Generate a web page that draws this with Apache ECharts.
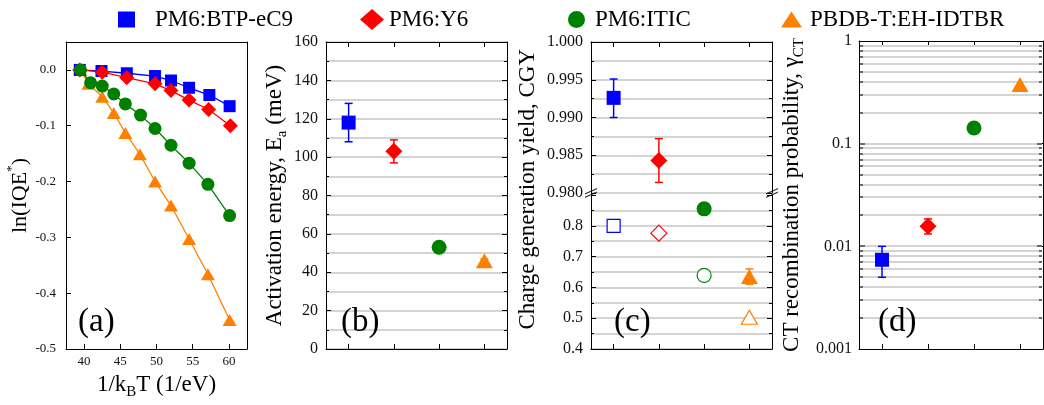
<!DOCTYPE html>
<html>
<head>
<meta charset="utf-8">
<script src="https://cdn.jsdelivr.net/npm/echarts@6/dist/echarts.min.js"></script>
<style>
  html, body { margin: 0; padding: 0; background: #fff; }
  #chart { width: 1044px; height: 405px; }
</style>
</head>
<body>
<div id="chart"></div>
<script>
// blends and their marker styles
const names = ['PM6:BTP-eC9', 'PM6:Y6', 'PM6:ITIC', 'PBDB-T:EH-IDTBR']
const colors = ['#0000ff', '#ff0000', '#008000', '#ff8000']
const symbols = ['rect', 'diamond', 'circle', 'triangle']
const cats = ['1', '2', '3', '4']

// (a) ln(IQE*) vs 1/kBT, [x, y]
const aBlue = [[39.4, 0], [42.4, -0.002], [45.9, -0.006], [49.8, -0.011], [52.0, -0.019], [54.5, -0.032], [57.3, -0.045], [60.1, -0.065]]
const aRed = [[39.4, 0], [42.5, -0.004], [45.9, -0.014], [49.8, -0.025], [52.0, -0.037], [54.5, -0.054], [57.2, -0.071], [60.2, -0.100]]
const aGreen = [[39.5, 0], [40.9, -0.023], [42.5, -0.029], [44.1, -0.043], [45.7, -0.061], [47.8, -0.081], [49.8, -0.105], [52.0, -0.135], [54.5, -0.167], [57.1, -0.205], [60.1, -0.261]]
const aOrange = [[39.5, 0], [40.6, -0.025], [42.5, -0.048], [44.1, -0.077], [45.7, -0.113], [47.7, -0.151], [49.8, -0.200], [52.0, -0.243], [54.5, -0.303], [57.1, -0.366], [60.1, -0.448]]

// (b) activation energy (meV) and error range
const eaValues = [118, 103, 53, 46]
const eaErrors = [[108, 128], [97, 109], [50.5, 55.5], [45, 47]]

// (c) charge generation yield, filled and hollow
const cgyFilledTop = [0.9926, 0.9843]          // BTP-eC9, Y6 (upper part)
const cgyFilledTopErr = [[0.9900, 0.9951], [0.9814, 0.9872]]
const cgyFilledLow = [null, null, 0.855, 0.635]  // ITIC, EH-IDTBR (lower part)
const cgyFilledLowErr = [[3, 0.610, 0.660]]
const cgyHollow = [0.800, 0.776, 0.639, 0.503]

// (d) CT recombination probability
const ctValues = [0.0074, 0.0157, 0.142, 0.376]
const ctErrors = [[0.005, 0.010], [0.0132, 0.0185]]
const ctGrid = [0.002, 0.003, 0.004, 0.005, 0.006, 0.007, 0.008, 0.009, 0.01,
  0.02, 0.03, 0.04, 0.05, 0.06, 0.07, 0.08, 0.09, 0.1,
  0.2, 0.3, 0.4, 0.5, 0.6, 0.7, 0.8, 0.9]

const serif = '"Liberation Serif", "Times New Roman", serif'
const gridGray = '#d4d4d4'

const axisLine = { show: true, onZero: false, lineStyle: { color: '#000', width: 1 } }
const tickIn = { show: true, inside: true, length: 5, lineStyle: { color: '#000', width: 1 } }
const minorIn = { show: true, splitNumber: 2, length: 3, lineStyle: { color: '#000', width: 1 } }
const labelStyle = (size, margin) => ({ color: '#111', fontFamily: serif, fontSize: size, margin })

function catAxis (gridIndex, position) {
  return {
    type: 'category', gridIndex, position, data: cats, boundaryGap: true,
    axisLine, axisTick: { ...tickIn, alignWithLabel: true }, axisLabel: { show: false }, splitLine: { show: false }
  }
}

function nameStyle (size) {
  return {
    fontFamily: serif, fontSize: size, color: '#000',
    rich: {
      n: { fontFamily: serif, fontSize: size, color: '#000', lineHeight: 30 },
      sup: { fontFamily: serif, fontSize: size * 0.6, color: '#000', verticalAlign: 'top', lineHeight: 30 },
      sub: { fontFamily: serif, fontSize: size * 0.65, color: '#000', verticalAlign: 'bottom', lineHeight: 26 }
    }
  }
}

function errorBars (xAxisIndex, yAxisIndex, color, data) {
  return {
    type: 'custom', xAxisIndex, yAxisIndex, z: 2, silent: true,
    data,
    encode: { x: 0, y: [1, 2] },
    renderItem (params, api) {
      const lo = api.coord([api.value(0), api.value(1)])
      const hi = api.coord([api.value(0), api.value(2)])
      const w = 4
      const s = { stroke: color, lineWidth: 1.5 }
      return {
        type: 'group',
        children: [
          { type: 'line', shape: { x1: lo[0], y1: lo[1], x2: hi[0], y2: hi[1] }, style: s },
          { type: 'line', shape: { x1: lo[0] - w, y1: lo[1], x2: lo[0] + w, y2: lo[1] }, style: s },
          { type: 'line', shape: { x1: hi[0] - w, y1: hi[1], x2: hi[0] + w, y2: hi[1] }, style: s }
        ]
      }
    }
  }
}

const bigSize = [[14, 14], [17, 17], [15, 15], [17, 15]]
const smallSize = [[12, 12], [15, 15], [13, 13], [14, 12]]
const aZ = [4, 5, 6, 3]

const series = []

// (a)
;[aBlue, aRed, aGreen, aOrange].forEach((d, i) => {
  series.push({
    type: 'line', name: names[i], xAxisIndex: 0, yAxisIndex: 0, data: d,
    symbol: symbols[i], symbolSize: smallSize[i], showAllSymbol: true,
    itemStyle: { color: colors[i] }, lineStyle: { color: colors[i], width: 1.3 }, z: aZ[i]
  })
})

// (b)
eaValues.forEach((v, i) => {
  series.push({
    type: 'scatter', name: names[i], xAxisIndex: 2, yAxisIndex: 2, data: [[i, v]],
    symbol: symbols[i], symbolSize: bigSize[i], itemStyle: { color: colors[i], opacity: 1 }, z: 3
  })
  series.push(errorBars(2, 2, colors[i], [[i, eaErrors[i][0], eaErrors[i][1]]]))
})

// (c) upper
cgyFilledTop.forEach((v, i) => {
  series.push({
    type: 'scatter', name: names[i], xAxisIndex: 4, yAxisIndex: 4, data: [[i, v]],
    symbol: symbols[i], symbolSize: bigSize[i], itemStyle: { color: colors[i], opacity: 1 }, z: 3
  })
  series.push(errorBars(4, 4, colors[i], [[i, cgyFilledTopErr[i][0], cgyFilledTopErr[i][1]]]))
})
// (c) lower
cgyFilledLow.forEach((v, i) => {
  if (v == null) return
  series.push({
    type: 'scatter', name: names[i], xAxisIndex: 5, yAxisIndex: 6, data: [[i, v]],
    symbol: symbols[i], symbolSize: bigSize[i], itemStyle: { color: colors[i], opacity: 1 }, z: 3
  })
})
series.push(errorBars(5, 6, colors[3], cgyFilledLowErr))
cgyHollow.forEach((v, i) => {
  series.push({
    type: 'scatter', name: names[i], xAxisIndex: 5, yAxisIndex: 6, data: [[i, v]],
    symbol: symbols[i], symbolSize: bigSize[i].map(s => s - 1),
    itemStyle: { color: '#fff', borderColor: colors[i], borderWidth: 1.2, opacity: 1 }, z: 3
  })
})
// axis break marks on the upper part of (c)
series.push({
  type: 'scatter', xAxisIndex: 8, yAxisIndex: 4, data: [[0, 0.98], [1, 0.98]], clip: false, silent: true,
  symbol: 'path://M0,6 L12,0 L12,1.3 L0,7.3 Z M0,10 L12,4 L12,5.3 L0,11.3 Z', symbolSize: [12, 10],
  itemStyle: { color: '#000' }, z: 6
})

// (d)
ctValues.forEach((v, i) => {
  series.push({
    type: 'scatter', name: names[i], xAxisIndex: 6, yAxisIndex: 8, data: [[i, v]],
    symbol: symbols[i], symbolSize: bigSize[i], itemStyle: { color: colors[i], opacity: 1 }, z: 3
  })
})
ctErrors.forEach((e, i) => series.push(errorBars(6, 8, colors[i], [[i, e[0], e[1]]])))
// log grid lines with small inside ticks on both sides
series.push({
  type: 'custom', xAxisIndex: 6, yAxisIndex: 8, silent: true, z: 1,
  data: ctGrid.map(v => [0, v]),
  encode: { x: 0, y: 1 },
  renderItem (params, api) {
    const cs = params.coordSys
    const y = Math.round(api.coord([0, api.value(1)])[1])
    const x1 = cs.x + 1
    const x2 = cs.x + cs.width - 1
    const major = [0.01, 0.1].includes(api.value(1))
    const t = major ? 5 : 3
    return {
      type: 'group',
      children: [
        { type: 'line', shape: { x1, y1: y, x2, y2: y }, style: { stroke: gridGray, lineWidth: 2 } },
        { type: 'line', shape: { x1, y1: y, x2: x1 + t, y2: y }, style: { stroke: '#000', lineWidth: 1 } },
        { type: 'line', shape: { x1: x2 - t, y1: y, x2, y2: y }, style: { stroke: '#000', lineWidth: 1 } }
      ]
    }
  }
})

// legends, one per blend so each sits where the reference puts it
const legendPos = [113, 355, 563, 776]
const legendIcon = [[17, 16], [24, 21], [17, 17], [21, 16]]
const legendPad = [15, 0, 5, 3]
const legend = names.map((n, i) => ({
  data: [{ name: n, icon: symbols[i] }],
  left: legendPos[i], top: 3,
  itemWidth: legendIcon[i][0], itemHeight: legendIcon[i][1],
  selectedMode: false,
  textStyle: { fontFamily: serif, fontSize: 23, color: '#000', padding: [0, 0, 0, legendPad[i]] }
}))

const panelLabel = (text, left) => ({
  text, left, top: 301, textStyle: { fontFamily: serif, fontSize: 33, fontWeight: 'normal', color: '#000' }
})

const option = {
  backgroundColor: '#fff',
  animation: false,
  legend,
  title: [panelLabel('(a)', 73), panelLabel('(b)', 336), panelLabel('(c)', 609), panelLabel('(d)', 873)],
  grid: [
    { left: 66, top: 42, width: 181, height: 308 },
    { left: 326, top: 42, width: 181, height: 307 },
    { left: 591, top: 42, width: 181, height: 151 },
    { left: 591, top: 195, width: 181, height: 154 },
    { left: 859, top: 41, width: 184, height: 308 }
  ],
  xAxis: [
    {
      type: 'value', gridIndex: 0, min: 37.5, max: 62.5, splitNumber: 5,
      axisLine, axisTick: tickIn, splitLine: { show: false },
      axisLabel: { ...labelStyle(13, 6), showMinLabel: false, showMaxLabel: false },
      name: '{n|1/k}{sub|B}{n|T (1/eV)}', nameLocation: 'middle', nameGap: 21, nameTextStyle: nameStyle(23)
    },
    { type: 'value', gridIndex: 0, position: 'top', min: 37.5, max: 62.5, axisLine, axisTick: { show: false }, axisLabel: { show: false }, splitLine: { show: false } },
    catAxis(1, 'bottom'),
    catAxis(1, 'top'),
    catAxis(2, 'top'),
    catAxis(3, 'bottom'),
    catAxis(4, 'bottom'),
    catAxis(4, 'top'),
    { type: 'value', gridIndex: 2, min: 0, max: 1, show: false }
  ],
  yAxis: [
    {
      type: 'value', gridIndex: 0, min: -0.5, max: 0.05, interval: 0.1,
      axisLine, axisTick: tickIn, splitLine: { show: false },
      axisLabel: { ...labelStyle(13, 10), showMaxLabel: false, formatter: v => (Math.abs(v) < 1e-9 ? 0 : v).toFixed(1) },
      name: '{n|ln(IQE}{sup|*}{n|)}', nameLocation: 'middle', nameGap: 30, nameTextStyle: nameStyle(22)
    },
    { type: 'value', gridIndex: 0, position: 'right', min: -0.5, max: 0.05, interval: 0.1, axisLine, axisTick: { show: false }, axisLabel: { show: false }, splitLine: { show: false } },
    {
      type: 'value', gridIndex: 1, min: 0, max: 160, interval: 20,
      axisLine, axisTick: tickIn, minorTick: minorIn,
      splitLine: { show: true, lineStyle: { color: gridGray, width: 2 } },
      minorSplitLine: { show: true, lineStyle: { color: gridGray, width: 2 } },
      axisLabel: labelStyle(16, 8),
      name: '{n|Activation energy, E}{sub|a}{n| (meV)}', nameLocation: 'middle', nameGap: 36, nameTextStyle: nameStyle(23)
    },
    { type: 'value', gridIndex: 1, position: 'right', min: 0, max: 160, interval: 20, axisLine, axisTick: tickIn, minorTick: minorIn, axisLabel: { show: false }, splitLine: { show: false } },
    {
      type: 'value', gridIndex: 2, min: 0.98, max: 1.0, interval: 0.005,
      axisLine, axisTick: tickIn, minorTick: minorIn,
      splitLine: { show: true, lineStyle: { color: gridGray, width: 2 } },
      minorSplitLine: { show: true, lineStyle: { color: gridGray, width: 2 } },
      axisLabel: { ...labelStyle(16, 8), formatter: v => v.toFixed(3) },
      name: 'Charge generation yield, CGY', nameLocation: 'end', nameRotate: 90, nameGap: 0,
      nameTextStyle: { fontFamily: serif, fontSize: 23, color: '#000', align: 'right', verticalAlign: 'bottom', padding: [0, 7, 52, 0] }
    },
    { type: 'value', gridIndex: 2, position: 'right', min: 0.98, max: 1.0, interval: 0.005, axisLine, axisTick: tickIn, minorTick: minorIn, axisLabel: { show: false }, splitLine: { show: false } },
    {
      type: 'value', gridIndex: 3, min: 0.4, max: 0.9, interval: 0.1,
      axisLine, axisTick: tickIn, minorTick: minorIn,
      splitLine: { show: true, showMaxLine: false, lineStyle: { color: gridGray, width: 2 } },
      minorSplitLine: { show: true, lineStyle: { color: gridGray, width: 2 } },
      axisLabel: { ...labelStyle(16, 8), showMaxLabel: false, formatter: v => v.toFixed(1) }
    },
    { type: 'value', gridIndex: 3, position: 'right', min: 0.4, max: 0.9, interval: 0.1, axisLine, axisTick: tickIn, minorTick: minorIn, axisLabel: { show: false }, splitLine: { show: false } },
    {
      type: 'log', gridIndex: 4, min: 0.001, max: 1, logBase: 10,
      axisLine, axisTick: tickIn, splitLine: { show: false },
      axisLabel: { ...labelStyle(16, 7), formatter: v => String(+v.toPrecision(1)) },
      name: '{n|CT recombination probability, γ}{sub|CT}', nameLocation: 'middle', nameGap: 52, nameTextStyle: nameStyle(23)
    },
    { type: 'log', gridIndex: 4, position: 'right', min: 0.001, max: 1, logBase: 10, axisLine, axisTick: tickIn, axisLabel: { show: false }, splitLine: { show: false } }
  ],
  series
}

const chart = echarts.init(document.getElementById('chart'), null, { renderer: 'canvas' })
chart.setOption(option)
</script>
</body>
</html>
